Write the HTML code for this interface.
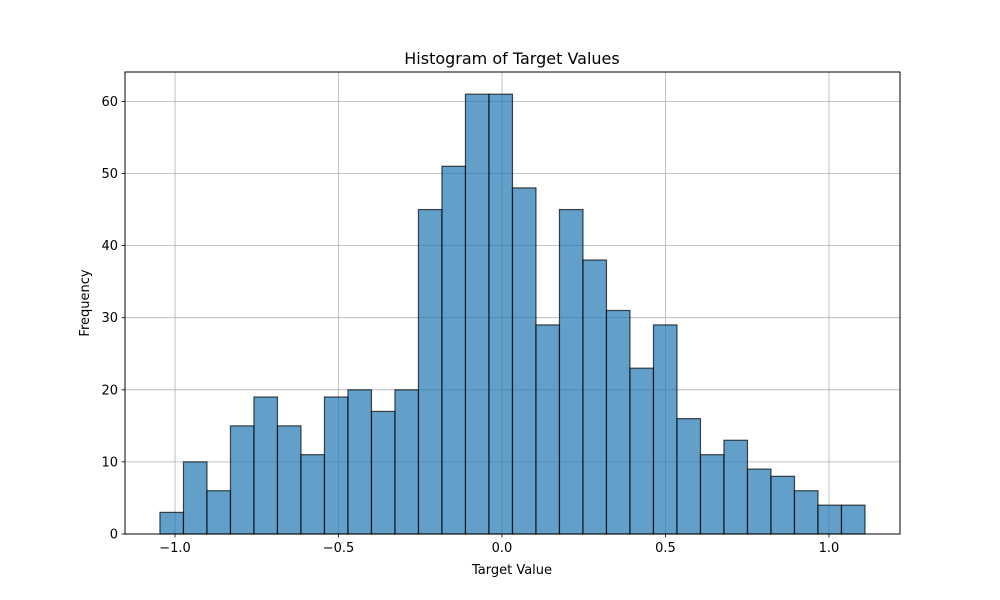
<!DOCTYPE html>
<html><head><meta charset="utf-8"><style>
html,body{margin:0;padding:0;background:#fff;}
svg{display:block;font-family:"DejaVu Sans","Liberation Sans",sans-serif;}
</style></head><body>
<svg id="chart" width="1000" height="600" viewBox="0 0 1000 600" xmlns="http://www.w3.org/2000/svg">
<rect width="1000" height="600" fill="#fff"/>
<g id="grid"></g>
<g id="bars"></g>
<rect x="125" y="72" width="775" height="462" fill="none" stroke="#000" stroke-width="1"/>
<g id="ticks"></g>
<text x="512" y="64" text-anchor="middle" font-size="16">Histogram of Target Values</text>
<text x="512" y="574" text-anchor="middle" font-size="13">Target Value</text>
<text x="89" y="303" text-anchor="middle" font-size="13" transform="rotate(-90 89 303)">Frequency</text>
</svg>
<script>
const counts = [3,10,6,15,19,15,11,19,20,17,20,45,51,61,61,48,29,45,38,31,23,29,16,11,13,9,8,6,4,4];
const binStart = -1.046;
const binEnd = 1.110;
const xTicks = [-1.0,-0.5,0.0,0.5,1.0];
const xTickLabels = ["\u22121.0","\u22120.5","0.0","0.5","1.0"];
const yTicks = [0,10,20,30,40,50,60];

const NS="http://www.w3.org/2000/svg";
const L=125,R=900,T=72,B=534;
const xs=v=>502+v*327;
const ys=v=>534-v*7.21;
function mk(tag,attrs,parent){const e=document.createElementNS(NS,tag);for(const k in attrs)e.setAttribute(k,attrs[k]);parent.appendChild(e);return e;}
const grid=document.getElementById('grid'),bars=document.getElementById('bars'),ticks=document.getElementById('ticks');
xTicks.forEach((v,i)=>{
  const x=xs(v);
  const g=mk('line',{x1:x,x2:x,y1:T,y2:B,stroke:'#b0b0b0','stroke-width':0.8},grid);
  
  
  const t=mk('line',{x1:x,x2:x,y1:B,y2:B+3.5,stroke:'#000','stroke-width':0.8},ticks);
  
  
  const l=mk('text',{x:x,y:B+18,'text-anchor':'middle','font-size':13},ticks);
  l.textContent=xTickLabels[i];
  
  
});
yTicks.forEach(v=>{
  const y=ys(v);
  const g=mk('line',{x1:L,x2:R,y1:y,y2:y,stroke:'#b0b0b0','stroke-width':0.8},grid);
  
  
  const t=mk('line',{x1:L-3.5,x2:L,y1:y,y2:y,stroke:'#000','stroke-width':0.8},ticks);
  
  
  const l=mk('text',{x:L-7,y:y+4.5,'text-anchor':'end','font-size':13},ticks);
  l.textContent=String(v);
  
  
});
const w=(binEnd-binStart)/counts.length;
counts.forEach((c,i)=>{
  const x0=xs(binStart+i*w),x1=xs(binStart+(i+1)*w);
  const r=mk('rect',{x:x0,y:ys(c),width:x1-x0,height:ys(0)-ys(c),fill:'#1f77b4','fill-opacity':0.7,stroke:'#000','stroke-opacity':0.7,'stroke-width':1.2},bars);
  
  
});
</script>
</body></html>
